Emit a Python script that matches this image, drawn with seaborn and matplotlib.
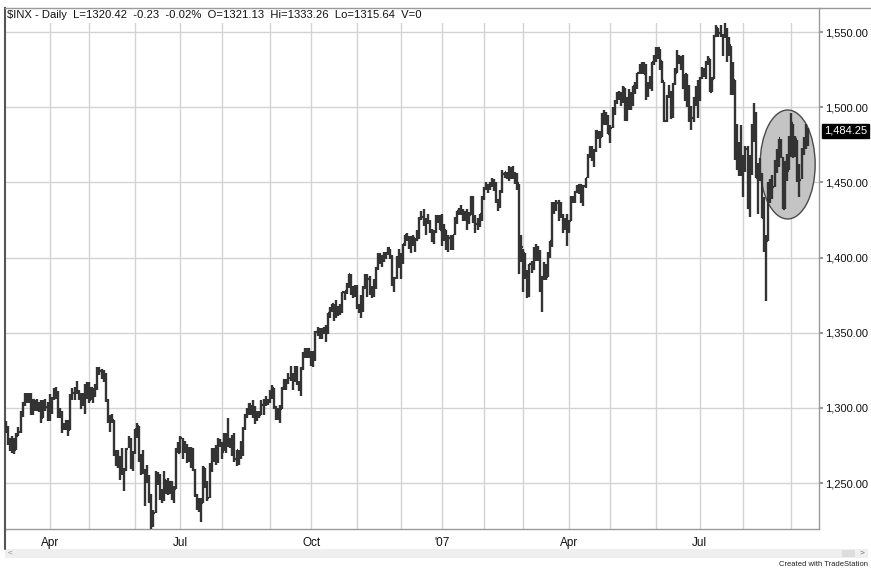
import numpy as np
import pandas as pd
import matplotlib
matplotlib.use('Agg')
import matplotlib.pyplot as plt
import matplotlib.transforms as mtransforms
from matplotlib.patches import Ellipse, Rectangle
from matplotlib.lines import Line2D
import seaborn as sns

# %%
# Datos: S&P 500 diario ($INX), 3-mar-2006 a 14-sep-2007 (cierre, maximo, minimo)
inicio = '2006-03-03'
fin = '2007-09-14'
feriados = ['2006-04-14', '2006-05-29', '2006-07-04', '2006-09-04', '2006-11-23',
            '2006-12-25', '2007-01-01', '2007-01-02', '2007-01-15', '2007-02-19',
            '2007-04-06', '2007-05-28', '2007-07-04', '2007-09-03']

close_2006 = [
    1287.2, 1278.3, 1275.9, 1278.5, 1272.2, 1281.4, 1284.1, 1297.5, 1303.0, 1305.3, 1307.3,
    1305.1, 1297.2, 1305.0, 1301.7, 1303.0, 1301.6, 1293.2, 1302.9, 1300.3, 1294.9,
    1297.8, 1305.9, 1311.6, 1309.0, 1295.5, 1296.6, 1286.6, 1288.1, 1289.1, 1285.3,
    1307.7, 1309.9, 1311.5, 1311.3, 1308.1, 1301.7, 1305.4, 1309.7, 1310.6,
    1305.2, 1313.2, 1308.1, 1312.3, 1325.8, 1324.7, 1325.1, 1322.9, 1305.9, 1291.2, 1294.5,
    1292.1, 1270.3, 1261.8, 1267.0, 1262.1, 1256.6, 1258.6, 1272.9, 1280.2, 1259.9, 1270.1,
    1285.7, 1288.2, 1265.3, 1263.9, 1257.9, 1256.2, 1252.3, 1237.4, 1223.7, 1230.0, 1256.2,
    1251.5, 1240.1, 1240.1, 1252.2, 1245.6, 1244.5, 1250.6, 1239.2, 1246.0, 1272.9, 1270.2,
    1280.2, 1270.9, 1274.1, 1265.5, 1267.3, 1272.4, 1258.6, 1242.3, 1236.2, 1234.5,
    1236.9, 1259.8, 1249.1, 1240.3, 1260.9, 1268.9, 1268.4, 1263.2, 1278.6, 1276.7,
    1270.9, 1277.4, 1280.3, 1279.4, 1275.8, 1271.5, 1265.9, 1271.8, 1266.7, 1268.2, 1285.6,
    1295.4, 1297.5, 1302.3, 1297.5, 1298.8, 1293.0, 1296.1, 1295.1, 1301.8, 1304.3, 1305.4, 1303.8,
    1311.0, 1313.3, 1300.3, 1294.0, 1298.9, 1299.5, 1313.0, 1318.1, 1316.3, 1319.7,
    1321.2, 1317.6, 1325.2, 1318.0, 1314.8, 1326.4, 1336.3, 1336.6, 1338.9, 1335.9,
    1331.3, 1334.1, 1350.2, 1353.2, 1349.6, 1350.7, 1353.4, 1350.0, 1362.8, 1365.6, 1369.1,
    1364.1, 1365.8, 1367.0, 1368.6, 1377.0, 1377.4, 1382.2, 1389.1, 1377.3, 1377.9, 1377.9,
    1367.8, 1367.3, 1364.3, 1379.8, 1382.8, 1385.7, 1376.9, 1380.0, 1384.4, 1393.2, 1396.6,
    1399.8, 1401.2, 1400.5, 1402.8, 1406.1, 1401.0, 1381.4, 1386.7, 1399.5, 1400.6,
    1396.7, 1409.1, 1414.8, 1412.9, 1407.3, 1409.8, 1413.0, 1411.6, 1413.2, 1425.5,
    1427.1, 1422.5, 1425.5, 1423.5, 1418.3, 1410.8, 1416.9, 1426.8, 1424.7, 1418.3,
]
high_2006 = [
    1291, 1288, 1280, 1281, 1280, 1283, 1287, 1298, 1304, 1310, 1310,
    1310, 1310, 1306, 1305, 1306, 1304, 1305, 1305, 1306, 1304,
    1309, 1307, 1313, 1314, 1311, 1300, 1298, 1290, 1292, 1292,
    1309, 1313, 1314, 1318, 1312, 1310, 1310, 1316, 1317,
    1317, 1314, 1313, 1316, 1327, 1327, 1326, 1325, 1323, 1306, 1295,
    1296, 1292, 1272, 1272, 1268, 1273, 1260, 1273, 1281, 1280, 1271,
    1286, 1290, 1288, 1269, 1272, 1259, 1262, 1255, 1243, 1232, 1258,
    1257, 1256, 1246, 1258, 1252, 1253, 1251, 1251, 1248, 1273, 1277,
    1281, 1280, 1278, 1276, 1274, 1274, 1273, 1259, 1243, 1240,
    1240, 1261, 1260, 1251, 1263, 1273, 1273, 1275, 1280, 1279,
    1277, 1283, 1283, 1293, 1280, 1282, 1283, 1272, 1272, 1278, 1287,
    1296, 1300, 1303, 1302, 1305, 1301, 1298, 1298, 1305, 1306, 1308, 1306,
    1312, 1315, 1313, 1301, 1300, 1302, 1314, 1319, 1319, 1323,
    1328, 1323, 1328, 1328, 1318, 1327, 1337, 1340, 1340, 1340,
    1338, 1338, 1351, 1354, 1353, 1353, 1354, 1355, 1363, 1367, 1369,
    1369, 1372, 1368, 1369, 1377, 1378, 1383, 1389, 1389, 1381, 1382,
    1382, 1369, 1375, 1381, 1389, 1389, 1388, 1381, 1386, 1394, 1403,
    1403, 1402, 1404, 1404, 1407, 1406, 1402, 1387, 1401, 1406,
    1403, 1409, 1415, 1416, 1414, 1414, 1415, 1413, 1418, 1427,
    1431, 1432, 1426, 1429, 1425, 1419, 1418, 1428, 1428, 1428,
]
low_2006 = [
    1283, 1275, 1271, 1270, 1269, 1272, 1281, 1283, 1294, 1301, 1303,
    1303, 1295, 1295, 1298, 1298, 1297, 1290, 1293, 1298, 1291,
    1291, 1296, 1305, 1306, 1293, 1293, 1283, 1285, 1285, 1281,
    1285, 1305, 1305, 1309, 1305, 1299, 1301, 1296, 1306,
    1303, 1305, 1303, 1307, 1312, 1322, 1319, 1317, 1304, 1290, 1284,
    1290, 1268, 1261, 1260, 1252, 1255, 1245, 1258, 1273, 1259, 1258,
    1269, 1280, 1264, 1255, 1256, 1235, 1250, 1237, 1219, 1221, 1230,
    1249, 1239, 1237, 1238, 1243, 1242, 1243, 1239, 1237, 1246, 1270,
    1270, 1266, 1270, 1263, 1264, 1260, 1258, 1241, 1232, 1231,
    1224, 1237, 1247, 1238, 1240, 1257, 1264, 1262, 1263, 1274,
    1266, 1271, 1270, 1274, 1273, 1268, 1264, 1261, 1262, 1266, 1268,
    1285, 1293, 1295, 1295, 1293, 1289, 1291, 1293, 1295, 1295, 1301, 1302,
    1303, 1306, 1299, 1292, 1292, 1290, 1299, 1312, 1312, 1316,
    1318, 1312, 1317, 1315, 1311, 1308, 1325, 1333, 1333, 1333,
    1328, 1327, 1331, 1348, 1346, 1346, 1349, 1344, 1349, 1360, 1364,
    1358, 1360, 1361, 1362, 1363, 1372, 1376, 1380, 1375, 1373, 1374,
    1366, 1363, 1360, 1364, 1379, 1374, 1375, 1373, 1374, 1379, 1392,
    1396, 1394, 1397, 1399, 1402, 1399, 1381, 1377, 1386, 1393,
    1386, 1396, 1408, 1411, 1406, 1403, 1408, 1404, 1411, 1412,
    1425, 1421, 1415, 1422, 1416, 1410, 1409, 1416, 1423, 1418,
]

close_2007 = [
    1416.6, 1418.3, 1409.7, 1412.8, 1412.1, 1414.9, 1423.8, 1430.7, 1431.9, 1430.6,
    1426.4, 1430.5, 1423.0, 1428.0, 1440.1, 1423.9, 1422.2, 1420.6, 1428.8, 1438.2,
    1445.9, 1448.4, 1447.0, 1448.0, 1450.0, 1448.3, 1438.1, 1433.4, 1444.3, 1455.3,
    1456.8, 1455.5, 1459.7, 1457.6, 1456.4, 1451.2, 1449.4, 1399.0, 1406.8,
    1403.2, 1387.2, 1374.1, 1395.4, 1392.0, 1401.9, 1402.8, 1406.6, 1378.0, 1387.2, 1392.3,
    1387.0, 1402.1, 1410.9, 1435.0, 1434.5, 1436.1, 1437.5, 1428.6, 1417.2, 1422.5, 1420.9,
    1424.6, 1437.8, 1439.4, 1443.8, 1444.6, 1448.4, 1438.9, 1447.8, 1452.9, 1468.3,
    1471.5, 1472.5, 1470.7, 1484.4, 1480.9, 1480.4, 1495.4, 1494.3, 1494.1, 1482.4,
    1486.3, 1495.9, 1502.4, 1505.6, 1509.5, 1507.7, 1512.6, 1491.5, 1505.9, 1503.2, 1501.2,
    1514.1, 1512.8, 1522.8, 1525.1, 1524.1, 1522.3, 1507.5, 1515.7, 1518.1, 1530.2, 1530.6,
    1536.3, 1539.2, 1531.0, 1517.4, 1490.7, 1507.7, 1509.1, 1493.0, 1515.7, 1523.0, 1532.9,
    1531.1, 1533.7, 1512.8, 1522.2, 1502.6, 1497.7, 1492.9, 1506.3, 1505.7, 1503.4,
    1519.4, 1524.9, 1525.4, 1530.4, 1531.9, 1510.1, 1518.8, 1547.7, 1552.5, 1549.5, 1549.4,
    1546.2, 1553.1, 1534.1, 1541.6, 1511.0, 1518.1, 1482.7, 1458.9, 1473.9, 1455.3,
    1465.8, 1472.2, 1433.1, 1467.7, 1476.7, 1497.5, 1453.1, 1453.6, 1452.9, 1426.5, 1406.7, 1411.3,
    1445.9, 1445.6, 1447.1, 1464.1, 1462.5, 1479.4, 1466.8, 1432.4, 1463.8, 1457.6, 1474.0,
    1489.4, 1472.3, 1478.6, 1453.6, 1451.7, 1471.5, 1471.6, 1484.0, 1484.25,
]
high_2007 = [
    1429, 1422, 1418, 1415, 1415, 1415, 1427, 1431, 1433, 1435,
    1432, 1431, 1432, 1430, 1441, 1441, 1428, 1426, 1429, 1441,
    1447, 1450, 1449, 1450, 1453, 1452, 1450, 1439, 1445, 1458,
    1457, 1457, 1461, 1460, 1461, 1457, 1456, 1449, 1415,
    1406, 1403, 1392, 1396, 1398, 1407, 1409, 1408, 1405, 1388, 1397,
    1396, 1404, 1411, 1437, 1437, 1438, 1438, 1437, 1429, 1426, 1429,
    1425, 1441, 1441, 1444, 1448, 1449, 1449, 1448, 1453, 1469,
    1474, 1474, 1472, 1485, 1484, 1484, 1496, 1498, 1497, 1495,
    1488, 1500, 1505, 1510, 1511, 1510, 1514, 1513, 1507, 1512, 1510,
    1514, 1517, 1523, 1529, 1530, 1530, 1529, 1517, 1521, 1530, 1535,
    1540, 1540, 1539, 1531, 1517, 1508, 1515, 1511, 1516, 1526, 1538,
    1535, 1534, 1535, 1522, 1522, 1515, 1501, 1507, 1514, 1518,
    1520, 1527, 1526, 1531, 1534, 1532, 1520, 1548, 1555, 1553, 1555,
    1549, 1556, 1553, 1547, 1541, 1530, 1518, 1489, 1477, 1488,
    1468, 1474, 1474, 1468, 1489, 1503, 1497, 1463, 1466, 1456, 1440, 1415,
    1450, 1452, 1455, 1465, 1472, 1479, 1479, 1467, 1464, 1469, 1481,
    1496, 1489, 1481, 1478, 1462, 1473, 1480, 1489, 1486,
]
low_2007 = [
    1408, 1411, 1405, 1404, 1405, 1405, 1415, 1422, 1428, 1428,
    1424, 1424, 1418, 1422, 1428, 1423, 1416, 1418, 1420, 1424,
    1438, 1445, 1443, 1445, 1447, 1444, 1436, 1431, 1433, 1443,
    1453, 1452, 1451, 1452, 1452, 1449, 1445, 1389, 1397,
    1377, 1386, 1373, 1374, 1390, 1392, 1398, 1398, 1377, 1364, 1385,
    1385, 1387, 1400, 1407, 1429, 1431, 1424, 1426, 1416, 1418, 1408,
    1416, 1424, 1436, 1436, 1443, 1442, 1436, 1434, 1446, 1453,
    1466, 1464, 1460, 1470, 1479, 1473, 1480, 1488, 1488, 1482,
    1476, 1486, 1495, 1502, 1505, 1501, 1503, 1491, 1491, 1498, 1498,
    1501, 1509, 1512, 1522, 1522, 1522, 1505, 1507, 1512, 1511, 1528,
    1530, 1532, 1525, 1516, 1490, 1490, 1506, 1492, 1493, 1515, 1523,
    1529, 1525, 1512, 1504, 1500, 1490, 1485, 1490, 1501, 1493,
    1504, 1519, 1520, 1519, 1528, 1510, 1510, 1519, 1547, 1547, 1547,
    1534, 1546, 1530, 1534, 1508, 1508, 1465, 1458, 1454, 1454,
    1440, 1457, 1432, 1427, 1455, 1477, 1453, 1429, 1451, 1426, 1404, 1371,
    1411, 1436, 1439, 1447, 1456, 1460, 1466, 1432, 1432, 1451, 1458,
    1467, 1466, 1467, 1450, 1440, 1452, 1468, 1472, 1474,
]

etiquetas_y = [1250, 1300, 1350, 1400, 1450, 1500, 1550]
ultimo_precio = 1484.25
encabezado = '$INX - Daily  L=1320.42  -0.23  -0.02%  O=1321.13  Hi=1333.26  Lo=1315.64  V=0'

# %%
cierre = np.array(close_2006 + close_2007)
maximo = np.array(high_2006 + high_2007)
minimo = np.array(low_2006 + low_2007)

fechas = pd.bdate_range(inicio, fin, freq='C', holidays=feriados)
n = min(len(fechas), len(cierre))
df = pd.DataFrame({'fecha': fechas[:n], 'cierre': cierre[:n],
                   'maximo': maximo[:n], 'minimo': minimo[:n]})
df['x'] = np.arange(n)

# inicio de cada mes -> lineas verticales, etiquetas solo por trimestre
df['mes'] = df['fecha'].dt.to_period('M')
inicios = df.groupby('mes')['x'].min()
inicios = inicios[inicios > 0]
pos_mes = list(inicios.values)
etq_mes = []
for per in inicios.index:
    if per.month == 1:
        etq_mes.append("'" + per.strftime('%y'))
    elif per.month in (4, 7, 10):
        etq_mes.append(per.strftime('%b'))
    else:
        etq_mes.append('')

# %%
sns.set_theme(style='white')
plt.rcParams['font.family'] = ['Liberation Sans Narrow', 'Liberation Sans', 'DejaVu Sans']

W, H = 871, 571
fig = plt.figure(figsize=(W / 100, H / 100), dpi=100)
fig.patch.set_facecolor('white')
ax = fig.add_axes([5 / W, 1 - 529 / H, (819 - 5) / W, (529 - 8) / H])

color_barra = '#333333'
gris_grid = '#d3d3d3'

# elipse resaltando el final
elipse = Ellipse((376.3, 1461.9), width=26.5, height=72.5,
                 facecolor='#c4c4c4', edgecolor='#4a4a4a', lw=1.0, zorder=1.8)
ax.add_patch(elipse)

ax.vlines(df['x'], df['minimo'], df['maximo'], color=color_barra, lw=1.7, zorder=3)
ax.hlines(df['cierre'], df['x'], df['x'] + 0.8, color=color_barra, lw=1.6, zorder=3)

ax.set_xlim(-0.48, 391.4)
ax.set_ylim(1219.4, 1566.0)

ax.set_xticks(pos_mes)
ax.set_xticklabels(etq_mes)
ax.set_yticks(etiquetas_y)
ax.set_yticklabels([f'{v:,.2f}' for v in etiquetas_y])
ax.yaxis.tick_right()
ax.grid(True, color=gris_grid, lw=1.0)
ax.set_axisbelow(True)
ax.tick_params(axis='x', length=4, color=gris_grid, pad=2, labelsize=8.5, labelcolor='#111111')
ax.tick_params(axis='y', length=3, color='#888888', pad=1.5, labelsize=8, labelcolor='#111111',
               right=True, left=False)

for lado in ['top', 'right', 'bottom']:
    ax.spines[lado].set_color('#9a9a9a')
    ax.spines[lado].set_linewidth(1.0)
ax.spines['left'].set_color('#555555')
ax.spines['left'].set_linewidth(1.5)

# zona blanca del encabezado
ax.add_patch(Rectangle((0, 1 - 15 / 521), 1, 15 / 521, transform=ax.transAxes,
                       facecolor='white', edgecolor='none', zorder=1.5))
fig.text(7 / W, 1 - 15 / H, encabezado, ha='left', va='center', fontsize=8.1, color='#111111')

# etiqueta del ultimo precio
trans = mtransforms.blended_transform_factory(ax.transAxes, ax.transData)
ax.text(1 + 5 / 814, ultimo_precio, f'{ultimo_precio:,.2f}', transform=trans,
        ha='left', va='center', fontsize=8, color='white', clip_on=False,
        bbox=dict(boxstyle='square,pad=0.2', facecolor='black', edgecolor='black'))

# bordes extra y barra de desplazamiento
fig.add_artist(Line2D([819 / W, 1], [1 - 8 / H, 1 - 8 / H], color='#9a9a9a', lw=1.0))
fig.add_artist(Line2D([5 / W, 5 / W], [1 - 529 / H, 1 - 549 / H], color='#555555', lw=1.5))
fig.add_artist(Rectangle((5 / W, 1 - 558 / H), (868 - 5) / W, 9 / H, transform=fig.transFigure,
                         facecolor='#efefef', edgecolor='none'))
fig.add_artist(Rectangle((842 / W, 1 - 557 / H), 13 / W, 7 / H, transform=fig.transFigure,
                         facecolor='#dcdcdc', edgecolor='none'))
fig.text(10 / W, 1 - 553.5 / H, '<', ha='center', va='center', fontsize=6, color='#888888')
fig.text(862 / W, 1 - 553.5 / H, '>', ha='center', va='center', fontsize=6, color='#666666')
fig.text(868 / W, 1 - 565 / H, 'Created with TradeStation', ha='right', va='center',
         fontsize=5.5, color='#222222')

fig.savefig('out.png', dpi=100)
